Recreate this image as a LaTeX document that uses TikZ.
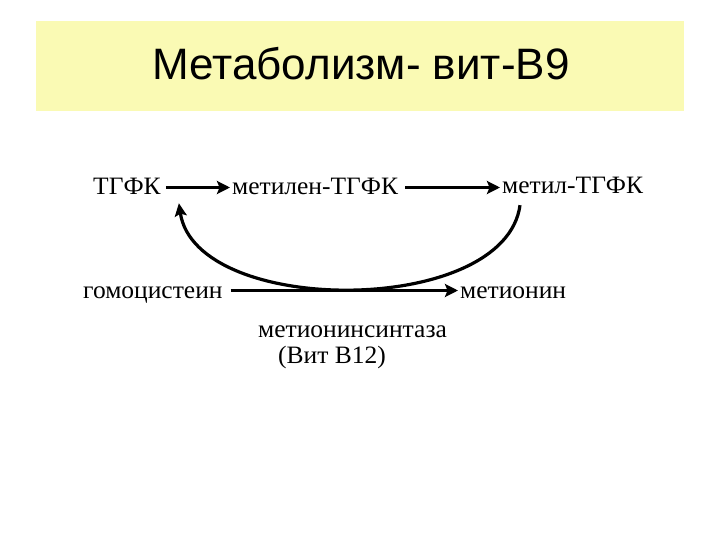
\documentclass[tikz,border=0pt]{standalone}
\usepackage{fontspec}
\setmainfont{Liberation Serif}[FakeStretch=1.02]
\newfontfamily\titlefont{Liberation Sans}
\usepackage{tikz}
\usetikzlibrary{positioning}
\usetikzlibrary{calc,arrows.meta}
\definecolor{titlebg}{RGB}{250,250,180}

\tikzset{
	substance/.style={inner sep=2pt, text height=15pt, text depth=0pt, anchor=base west, font=\fontsize{25}{30}\selectfont},
	enzyme/.style={inner sep=0pt, anchor=base west, font=\fontsize{25}{30}\selectfont},
	reaction/.style={line width=3.2pt, shorten <=3pt, -{Stealth[length=13pt,width=13pt,inset=2.5pt]}},
	cyclearrow/.style={line width=3.2pt, -{Stealth[length=13pt,width=12pt,inset=2.5pt]}},
}

\begin{document}
\begin{tikzpicture}[x=1pt,y=-1pt]
	\useasboundingbox (0,0) rectangle (720,540);

	%Title
	\fill[titlebg] (36,21) rectangle (684,111);
	\node[anchor=base, inner sep=0pt, font=\titlefont\fontsize{44}{52}\selectfont] (Title) at (361,80) {Метаболизм- вит-В9};

	%Substances
	\node[substance] (TGFK) at (91,195) {ТГФК};
	\node[substance] (MetilenTGFK) at (230,195) {метилен-ТГФК};
	\node[substance] (MetilTGFK) at (500,194) {метил-ТГФК};
	\node[substance] (Homocys) at (81,298) {гомоцистеин};
	\node[substance] (Methionine) at (458,298) {метионин};

	%Enzyme
	\node[enzyme] (Synthase) at (258,337) {метионинсинтаза};
	\node[enzyme] (Cofactor) at (278,363) {(Вит В12)};

	%%%%%%%%%%%%%%%%%%%%%%%%%%%%%%%%%%%%%%%%%%%%%%%%%%%%%%%%%
	%Reactions
	\draw[reaction] (TGFK) -- (MetilenTGFK);
	\draw[reaction, shorten <=5pt] (MetilenTGFK.east) -- (MetilenTGFK.east -| MetilTGFK.west);
	\draw[reaction, shorten <=6pt] (Homocys) -- (Methionine);

	%Cycle back to TGFK
	\coordinate (CycStart) at ($(MetilTGFK.south west)+(20,9)$);
	\coordinate (CycEnd) at ($(TGFK.south east)+(16,6)$);
	\draw[cyclearrow] (CycStart) .. controls +(-15,112) and +(17,114) .. (CycEnd);
\end{tikzpicture}
\end{document}
